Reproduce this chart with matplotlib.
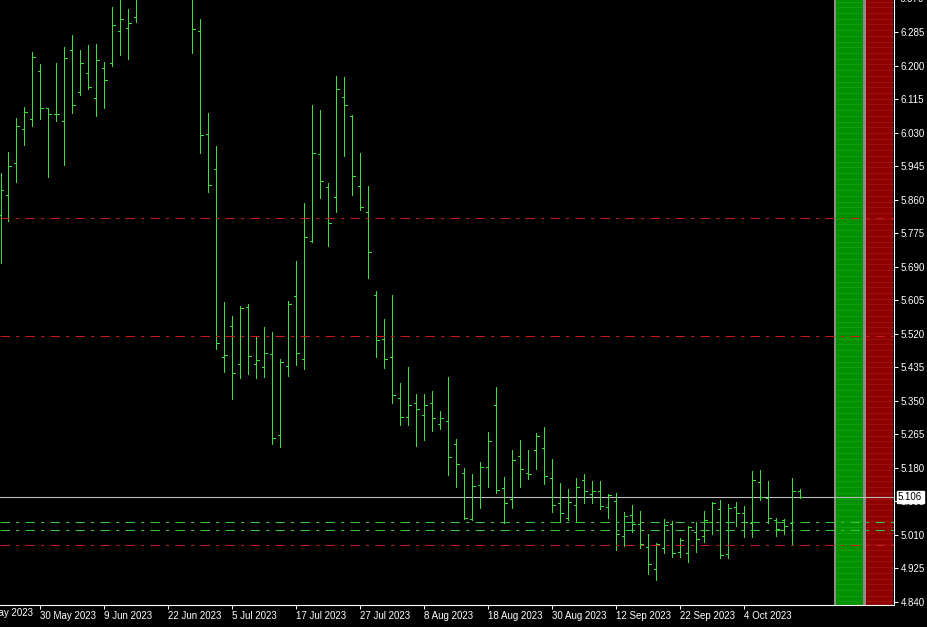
import numpy as np
import matplotlib.pyplot as plt
from matplotlib.patches import Rectangle
from matplotlib.transforms import blended_transform_factory

plt.rcParams['font.family'] = ['Liberation Sans', 'DejaVu Sans']

# daily OHLC bars, oldest first
opens = [5.822, 5.873, 5.954, 6.040, 6.065, 6.187, 6.093, 6.078, 6.060, 6.241,
         6.134, 6.182, 6.119, 6.195, 6.208, 6.289, 6.296, 6.324, 6.395, 6.440,
         6.470, 6.450, 6.480, 6.440, 6.400, 6.289, 6.027, 5.939, 5.461, 5.540,
         5.444, 5.588, 5.444, 5.436, 5.469, 5.263, 5.439, 5.616, 5.456, 5.756,
         5.977, 5.893, 5.867, 6.121, 6.073, 5.895, 5.829, 5.619, 5.507, 5.461,
         5.357, 5.309, 5.345, 5.314, 5.345, 5.291, 5.299, 5.241, 5.167, 5.050,
         5.136, 5.182, 5.340, 5.129, 5.101, 5.210, 5.167, 5.225, 5.230, 5.154,
         5.091, 5.053, 5.086, 5.149, 5.114, 5.121, 5.081, 5.096, 5.007, 5.060,
         5.037, 4.979, 4.923, 4.977, 5.037, 4.966, 4.964, 5.017, 5.007, 5.043,
         5.076, 4.961, 5.081, 5.065, 5.040, 5.144, 5.103, 5.048, 5.048, 5.040,
         5.121]
highs = [5.928, 5.982, 6.068, 6.096, 6.235, 6.205, 6.093, 6.208, 6.248, 6.279,
         6.241, 6.253, 6.256, 6.210, 6.350, 6.380, 6.345, 6.420, 6.460, 6.500,
         6.530, 6.510, 6.520, 6.470, 6.410, 6.319, 6.081, 5.997, 5.601, 5.565,
         5.591, 5.596, 5.512, 5.537, 5.525, 5.456, 5.603, 5.705, 5.852, 6.101,
         6.088, 5.903, 6.175, 6.172, 6.076, 5.979, 5.895, 5.629, 5.558, 5.619,
         5.395, 5.436, 5.367, 5.367, 5.375, 5.324, 5.411, 5.253, 5.180, 5.164,
         5.195, 5.271, 5.385, 5.157, 5.225, 5.251, 5.225, 5.268, 5.284, 5.202,
         5.142, 5.126, 5.154, 5.164, 5.147, 5.147, 5.114, 5.116, 5.068, 5.086,
         5.070, 5.012, 4.989, 5.050, 5.045, 5.002, 5.032, 5.043, 5.070, 5.093,
         5.098, 5.088, 5.093, 5.083, 5.172, 5.174, 5.147, 5.053, 5.050, 5.154,
         5.126]
lows = [5.700, 5.807, 5.906, 5.999, 6.048, 6.065, 5.918, 6.060, 5.949, 6.081,
        6.126, 6.142, 6.073, 6.093, 6.200, 6.228, 6.218, 6.312, 6.380, 6.410,
        6.430, 6.400, 6.420, 6.380, 6.233, 5.979, 5.880, 5.482, 5.423, 5.355,
        5.408, 5.418, 5.408, 5.411, 5.241, 5.233, 5.413, 5.441, 5.431, 5.753,
        5.865, 5.743, 5.829, 5.972, 5.873, 5.834, 5.662, 5.461, 5.433, 5.345,
        5.289, 5.289, 5.235, 5.251, 5.274, 5.279, 5.162, 5.131, 5.050, 5.048,
        5.078, 5.131, 5.116, 5.040, 5.078, 5.131, 5.152, 5.177, 5.139, 5.068,
        5.043, 5.048, 5.045, 5.091, 5.091, 5.076, 5.053, 4.971, 4.982, 5.017,
        4.977, 4.911, 4.895, 4.964, 4.954, 4.954, 4.941, 4.966, 4.992, 5.012,
        4.951, 4.951, 5.032, 5.004, 5.004, 5.098, 5.040, 5.007, 5.012, 4.987,
        5.104]
closes = [5.885, 5.946, 6.048, 6.083, 6.223, 6.093, 6.078, 6.078, 6.220, 6.101,
          6.208, 6.147, 6.215, 6.164, 6.304, 6.319, 6.309, 6.395, 6.440, 6.470,
          6.450, 6.480, 6.440, 6.400, 6.294, 6.025, 5.898, 5.497, 5.466, 5.421,
          5.586, 5.464, 5.454, 5.471, 5.256, 5.449, 5.596, 5.471, 5.766, 5.979,
          5.908, 5.801, 6.142, 6.101, 5.921, 5.842, 5.728, 5.504, 5.456, 5.365,
          5.309, 5.340, 5.329, 5.340, 5.307, 5.307, 5.208, 5.190, 5.053, 5.134,
          5.182, 5.248, 5.124, 5.091, 5.200, 5.177, 5.164, 5.261, 5.159, 5.086,
          5.065, 5.093, 5.131, 5.121, 5.121, 5.083, 5.111, 5.012, 5.058, 5.037,
          4.987, 4.936, 4.987, 5.035, 4.964, 4.997, 5.030, 4.999, 5.048, 5.091,
          4.959, 5.078, 5.065, 5.043, 5.149, 5.106, 5.053, 5.025, 5.032, 5.121,
          5.106]

date_ticks = [-3, 5, 13, 21, 29, 37, 45, 53, 61, 69, 77, 85, 93]
date_labels = ['18 May 2023', '30 May 2023', '9 Jun 2023', '22 Jun 2023', '5 Jul 2023',
               '17 Jul 2023', '27 Jul 2023', '8 Aug 2023', '18 Aug 2023', '30 Aug 2023',
               '12 Sep 2023', '22 Sep 2023', '4 Oct 2023']

price_ticks = [4.840, 4.925, 5.010, 5.095, 5.180, 5.265, 5.350, 5.435, 5.520, 5.605,
               5.690, 5.775, 5.860, 5.945, 6.030, 6.115, 6.200, 6.285, 6.370]

red_levels = [5.815, 5.515, 4.984]
green_levels = [5.042, 5.022]
last_price = 5.106

y_bottom, y_top = 4.8319, 6.3674
bar_color = '#3ee03e'

fig = plt.figure(figsize=(9.28, 6.27), dpi=100, facecolor='black')
ax = fig.add_axes([0, 22 / 627, 894 / 928, 605 / 627])
ax.set_facecolor('black')
ax.set_xlim(-0.0625, 111.6875)
ax.set_ylim(y_bottom, y_top)


# indicator columns at the right edge of the chart (pixels -> axes fraction)
def px(v):
    return v / 894


for x0, x1, c in [(834.5, 836, '#8c8c8c'), (836, 862.7, '#009000'),
                  (862.7, 865.7, '#8c8c8c'), (865.7, 893.3, '#8e0000')]:
    ax.add_patch(Rectangle((px(x0), 0), px(x1) - px(x0), 1, transform=ax.transAxes,
                           facecolor=c, edgecolor='none', zorder=1))
stripes = np.arange(y_top - 0.004, y_bottom, -0.0145)
ax.hlines(stripes, 836 / 8, 862.7 / 8, color='#1ea81e', lw=0.6, alpha=0.7, zorder=1.5)
ax.hlines(stripes, 865.7 / 8, 893.3 / 8, color='#aa1a1a', lw=0.6, alpha=0.7, zorder=1.5)

# price levels
ax.axhline(last_price, color='#bcbcbc', lw=0.8, zorder=2)
for lv in red_levels:
    ax.axhline(lv, color='#c8181c', lw=0.75, ls=(0, (9, 6, 3, 6)), zorder=4)
for lv in green_levels:
    ax.axhline(lv, color='#36c836', lw=0.75, ls=(0, (9, 6, 3, 6)), zorder=4)

# OHLC bars
x = np.arange(len(opens))
ax.vlines(x, lows, highs, color=bar_color, lw=0.6, antialiased=False, zorder=3)
ax.hlines(opens, x - 0.32, x, color=bar_color, lw=0.6, antialiased=False, zorder=3)
ax.hlines(closes, x, x + 0.32, color=bar_color, lw=0.6, antialiased=False, zorder=3)

# axes frame like the terminal
for s in ['left', 'top']:
    ax.spines[s].set_visible(False)
for s in ['right', 'bottom']:
    ax.spines[s].set_color('white')
    ax.spines[s].set_linewidth(0.8)

ax.yaxis.tick_right()
ax.set_yticks(price_ticks[:-1])
ax.set_yticklabels(['%.3f' % v for v in price_ticks[:-1]])
ax.tick_params(axis='y', colors='white', labelsize=7, length=3, width=0.7, pad=2)
ax.set_xticks(date_ticks[1:])
ax.set_xticklabels(date_labels[1:], ha='left')
ax.tick_params(axis='x', colors='white', labelsize=7, length=3, width=0.7, pad=1.2)

trans = blended_transform_factory(ax.transAxes, ax.transData)
ax.text(1.0 + 5 / 894, price_ticks[-1], '%.3f' % price_ticks[-1], transform=trans,
        color='white', fontsize=7, va='center', ha='left', clip_on=False)
ax.text(date_ticks[0], y_bottom - 0.0215, date_labels[0], color='white', fontsize=7,
        va='center', ha='left', clip_on=False)
ax.text(1.0 + 4 / 894, last_price, '%.3f' % last_price, transform=trans, color='black',
        fontsize=7, va='center', ha='left', clip_on=False, zorder=10,
        bbox=dict(boxstyle='square,pad=0.15', facecolor='white', edgecolor='white'))

fig.savefig('out.png', dpi=100, facecolor='black')
